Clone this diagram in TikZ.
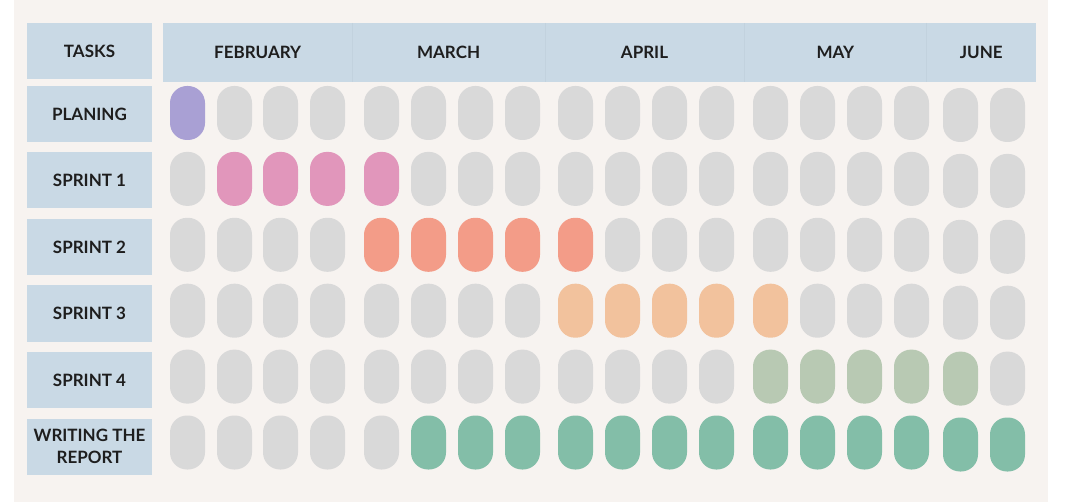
\documentclass[tikz,border=0pt]{standalone}
\usepackage{fontspec}
\setmainfont{Lato}
\usepackage{xcolor}
\definecolor{ganttbg}{HTML}{F7F3F0}
\definecolor{ganttblue}{HTML}{C9D9E5}
\definecolor{ganttline}{HTML}{C2D2DE}
\definecolor{gantttext}{HTML}{1E1E1E}
\definecolor{pillgray}{HTML}{D9D9D9}
\definecolor{pillpurple}{HTML}{A9A0D4}
\definecolor{pillpink}{HTML}{E196BB}
\definecolor{pillsalmon}{HTML}{F39C88}
\definecolor{pillpeach}{HTML}{F2C29D}
\definecolor{pillsage}{HTML}{B8C9B3}
\definecolor{pillteal}{HTML}{83BEA8}
\usetikzlibrary{positioning}

\begin{document}
\begin{tikzpicture}[
  x=1pt, y=-1pt,
  every node/.style={font=\fontsize{17}{22}\selectfont\bfseries, text=gantttext},
  head/.style={rectangle, fill=ganttblue, inner sep=0pt, align=center},
  month/.style={head, minimum height=59pt, anchor=west},
  task/.style={head, minimum width=125pt, minimum height=56pt},
  pill/.style={rectangle, rounded corners=17pt, minimum width=35pt, minimum height=54pt, inner sep=0pt},
  divider/.style={thin, ganttline},
]
  \useasboundingbox (0,0) rectangle (1078,502);
  \fill[ganttbg] (14,0) rectangle (1048,502);

  % header row
  \node[task] (tasks) at (89.5,51) {TASKS};
  \node[month, minimum width=189pt] (feb) at (163,52.5) {FEBRUARY};
  \node[month, minimum width=192pt, right=0pt of feb] (mar) {MARCH};
  \node[month, minimum width=199pt, right=0pt of mar] (apr) {APRIL};
  \node[month, minimum width=182pt, right=0pt of apr] (may) {MAY};
  \node[month, minimum width=109pt, right=0pt of may] (jun) {JUNE};
  \foreach \m in {feb,mar,apr,may}
    \draw[divider] (\m.north east) -- (\m.south east);

  % task labels
  \foreach \t/\lab [count=\r from 0] in {plan/PLANING, sa/SPRINT 1, sb/SPRINT 2, sc/SPRINT 3, sd/SPRINT 4, rep/{WRITING THE\\REPORT}}
    \node[task] (\t) at (89.5,114+66.5*\r) {\lab};

  % weeks: one pill per week, coloured from \cfirst to \clast
  \foreach \cfirst/\clast/\pcol [count=\r from 0] in {1/1/pillpurple, 2/5/pillpink, 5/9/pillsalmon, 9/13/pillpeach, 13/17/pillsage, 6/18/pillteal}{
    \foreach \x [count=\c] in {187.5,234.5,280.5,327.5, 381.5,428.5,475.5,522.5, 575.5,622.5,669.5,716.5, 770.5,817.5,864.5,911.5, 960.5,1007.5}{
      \ifnum\c<\cfirst \def\pillcol{pillgray}\else
        \ifnum\c>\clast \def\pillcol{pillgray}\else \def\pillcol{\pcol}\fi\fi
      % June weeks sit a little lower
      \ifnum\c>16 \def\pilldy{2}\else \def\pilldy{0}\fi
      \node[pill, fill=\pillcol] (w\r-\c) at (\x,113+65.9*\r+\pilldy) {};
    }
  }
\end{tikzpicture}
\end{document}
